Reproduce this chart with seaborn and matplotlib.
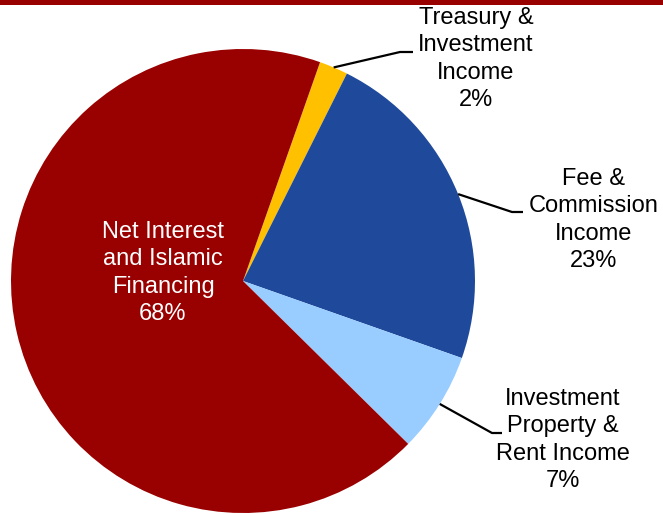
import numpy as np
import matplotlib
matplotlib.use("Agg")
import matplotlib.pyplot as plt
import seaborn as sns

# Income breakdown (share of total, %)
categories = ["Treasury &\nInvestment\nIncome", "Fee &\nCommission\nIncome",
              "Investment\nProperty &\nRent Income", "Net Interest\nand Islamic\nFinancing"]
shares = [2, 23, 7, 68]
colors = ["#FFC000", "#1F4A9C", "#99CCFF", "#990000"]

sns.set_style("white")
plt.rcParams["font.family"] = ["Liberation Sans", "DejaVu Sans"]

W, H = 663, 514
fig = plt.figure(figsize=(W / 100, H / 100), dpi=100)
ax = fig.add_axes([0, 0, 1, 1])

cx, cy, r = 243, H - 281, 232
wedges, _ = ax.pie(shares, colors=sns.color_palette(colors), startangle=70.6,
                   counterclock=False, center=(cx, cy), radius=r,
                   wedgeprops=dict(linewidth=0))
ax.set_xlim(0, W)
ax.set_ylim(0, H)
ax.set_aspect("equal")
ax.axis("off")

# label layout: (elbow x, elbow y, line end x, text center x, text center y)
layout = [
    (400, H - 52, 413, 476, H - 59),
    (512, H - 212, 523, 594, H - 220),
    (492, H - 433, 502, 563, H - 440),
]
fs = 17
ls = 1.32
for w, cat, val, (ex, ey, lx, tx, ty) in zip(wedges[:3], categories[:3], shares[:3], layout):
    mid = np.deg2rad((w.theta1 + w.theta2) / 2)
    sx, sy = cx + r * np.cos(mid), cy + r * np.sin(mid)
    ax.plot([sx, ex, lx], [sy, ey, ey], color="black", lw=1.6, solid_capstyle="butt")
    ax.text(tx, ty, f"{cat}\n{val}%", ha="center", va="center", fontsize=fs,
            linespacing=ls, color="black")

ax.text(163, H - 273, f"{categories[3]}\n{shares[3]}%", ha="center", va="center",
        fontsize=fs, linespacing=ls, color="white")

# top rule
fig.add_artist(plt.Rectangle((0, 1 - 5 / H), 1, 5 / H, transform=fig.transFigure,
                             color="#990000", lw=0))

fig.savefig("out.png", dpi=100)
